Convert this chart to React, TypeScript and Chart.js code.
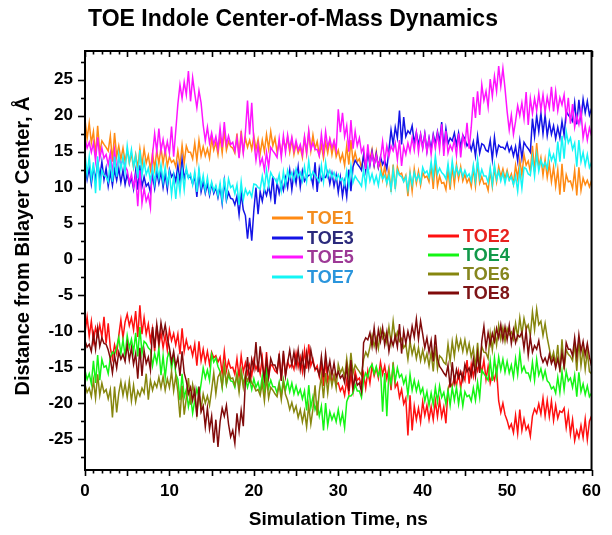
import { useEffect, useRef } from 'react';
import { Chart, registerables } from 'chart.js';

Chart.register(...registerables);

// time step between samples (ns)
const STEP_NS = 0.25;

const X_TICKS = [0, 10, 20, 30, 40, 50, 60];
const Y_TICKS = [-25, -20, -15, -10, -5, 0, 5, 10, 15, 20, 25];

const TOE1 = [
  19.5, 16.8, 19.0, 16.2, 17.8, 14.5, 18.6, 14.9, 16.5, 16.0, 15.6, 15.1, 17.2, 13.6, 17.6, 14.3, 15.8, 13.9, 15.5, 13.6,
  15.2, 13.4, 14.7, 12.8, 14.6, 12.7, 15.4, 13.1, 15.4, 13.4, 14.5, 12.5, 14.8, 12.6, 15.2, 13.3, 15.6, 13.3, 15.3, 13.0,
  14.3, 13.5, 13.8, 12.9, 15.1, 13.0, 15.9, 13.4, 15.8, 14.9, 14.9, 14.0, 16.2, 13.7, 16.6, 14.4, 15.7, 14.4, 15.4, 14.1,
  16.8, 15.2, 16.3, 14.6, 17.1, 14.8, 17.9, 15.2, 16.4, 15.7, 15.5, 14.8, 17.5, 14.3, 17.9, 15.0, 16.9, 15.6, 16.6, 15.3,
  17.2, 15.3, 16.7, 14.7, 16.6, 15.0, 17.4, 15.4, 17.8, 15.8, 16.9, 14.9, 16.3, 14.8, 16.7, 15.5, 17.0, 14.9, 16.7, 14.6,
  16.1, 14.8, 15.6, 14.2, 16.9, 14.7, 17.7, 15.1, 17.3, 15.4, 16.4, 14.5, 15.9, 14.1, 16.3, 14.8, 16.6, 14.6, 16.3, 14.3,
  15.2, 13.7, 14.7, 13.1, 15.8, 13.2, 16.6, 13.6, 14.9, 13.6, 14.0, 12.7, 14.4, 13.2, 14.8, 13.9, 15.3, 13.1, 15.0, 12.8,
  13.5, 11.2, 13.0, 10.6, 12.4, 9.4, 13.2, 9.8, 12.9, 11.8, 12.0, 10.9, 11.7, 8.8, 12.1, 9.5, 12.6, 10.6, 12.3, 10.3,
  12.1, 11.4, 11.6, 10.8, 13.0, 9.8, 13.8, 10.2, 11.6, 10.6, 10.7, 9.7, 12.5, 9.7, 12.9, 10.4, 13.2, 11.2, 12.9, 10.9,
  11.8, 10.7, 11.3, 10.1, 12.7, 10.2, 13.5, 10.6, 11.5, 10.5, 10.6, 9.6, 12.3, 10.1, 12.7, 10.8, 12.9, 11.5, 12.6, 11.2,
  12.4, 11.1, 11.9, 10.5, 13.1, 11.3, 13.9, 11.7, 14.6, 13.1, 13.7, 12.2, 15.8, 12.2, 16.2, 12.9, 14.2, 11.7, 13.9, 11.4,
  13.3, 10.8, 12.8, 10.2, 12.5, 9.0, 13.3, 9.4, 11.8, 10.8, 10.9, 9.9, 12.4, 8.9, 12.8, 9.6, 11.3, 10.4, 11.0, 10.1,
  11.0,
];

const TOE3 = [
  13.2, 11.1, 12.7, 10.5, 12.8, 11.0, 13.6, 11.4, 13.6, 11.1, 12.7, 10.2, 12.1, 10.3, 12.5, 11.0, 12.7, 10.7, 12.4, 10.4,
  11.9, 10.4, 11.4, 9.8, 12.3, 9.7, 13.1, 10.1, 11.5, 10.2, 10.6, 9.3, 11.8, 9.9, 12.2, 10.6, 12.2, 10.0, 11.9, 9.7,
  12.5, 11.5, 12.0, 10.9, 13.1, 10.9, 13.9, 11.3, 12.4, 11.4, 11.5, 10.5, 11.6, 8.7, 12.0, 9.4, 10.8, 9.2, 10.5, 8.9,
  10.5, 9.2, 10.0, 8.6, 10.1, 7.8, 10.9, 8.2, 9.3, 8.5, 8.4, 7.6, 8.8, 6.2, 9.2, 6.9, 6.1, 2.9, 5.8, 2.6,
  6.8, 10.0, 6.3, 9.4, 8.1, 9.8, 8.9, 10.2, 8.6, 11.6, 7.7, 10.7, 9.2, 10.7, 9.6, 11.4, 10.0, 12.4, 9.7, 12.1,
  10.6, 12.9, 10.1, 12.3, 10.9, 11.4, 11.7, 11.8, 10.3, 13.5, 9.4, 12.6, 11.0, 11.5, 11.4, 12.2, 10.5, 12.0, 10.2, 11.7,
  9.3, 11.4, 8.8, 10.8, 8.7, 12.5, 9.5, 12.9, 13.8, 13.3, 12.9, 12.4, 14.6, 12.4, 15.0, 13.1, 15.0, 13.1, 14.7, 12.8,
  14.3, 13.2, 13.8, 12.6, 15.2, 18.0, 16.0, 18.4, 16.9, 20.7, 16.0, 19.8, 17.1, 17.9, 17.5, 18.6, 16.2, 17.7, 15.9, 17.4,
  15.6, 17.5, 15.1, 16.9, 15.3, 17.4, 16.1, 17.8, 16.4, 19.1, 15.5, 18.2, 16.1, 16.9, 16.5, 17.6, 15.9, 17.6, 15.6, 17.3,
  16.8, 15.8, 16.3, 15.2, 16.4, 14.4, 17.2, 14.8, 16.1, 15.9, 15.2, 15.0, 16.6, 13.9, 17.0, 14.6, 15.9, 15.6, 15.6, 15.3,
  16.2, 15.0, 15.7, 14.4, 15.7, 13.7, 16.5, 14.1, 16.3, 15.8, 15.4, 14.9, 19.6, 17.1, 20.0, 17.8, 20.4, 17.5, 20.1, 17.2,
  19.1, 17.4, 18.6, 16.8, 18.4, 16.9, 19.2, 17.3, 20.6, 20.1, 19.7, 19.2, 21.8, 18.8, 22.2, 19.5, 22.3, 20.4, 22.0, 20.1,
  21.0,
];

const TOE5 = [
  16.8, 15.5, 16.3, 14.9, 16.2, 13.7, 17.0, 14.1, 15.5, 14.1, 14.6, 13.2, 14.8, 11.9, 15.2, 12.6, 14.1, 13.3, 13.8, 13.0,
  12.4, 10.7, 11.9, 10.1, 11.6, 7.4, 12.4, 7.8, 9.9, 8.1, 9.0, 7.2, 14.6, 17.5, 15.0, 18.2, 15.1, 16.7, 14.8, 16.4,
  14.8, 18.5, 14.3, 17.9, 21.6, 24.3, 22.4, 24.7, 22.9, 26.2, 22.0, 25.3, 23.1, 21.1, 23.5, 21.8, 18.7, 16.5, 18.4, 16.2,
  17.6, 16.0, 17.1, 15.4, 18.3, 15.6, 19.1, 16.0, 17.2, 16.0, 16.3, 15.1, 16.9, 14.1, 17.3, 14.8, 17.7, 22.1, 17.4, 21.8,
  16.4, 13.8, 15.9, 13.2, 14.1, 12.4, 14.9, 12.8, 15.6, 15.1, 14.7, 14.2, 16.8, 14.2, 17.2, 14.9, 17.3, 15.4, 17.0, 15.1,
  16.5, 15.2, 16.0, 14.6, 17.1, 14.9, 17.9, 15.3, 16.2, 15.3, 15.3, 14.4, 17.4, 14.9, 17.8, 15.6, 16.8, 15.5, 16.5, 15.2,
  20.9, 17.7, 20.4, 17.1, 18.6, 15.0, 19.4, 15.4, 17.8, 15.8, 16.9, 14.9, 15.6, 12.6, 16.0, 13.3, 14.8, 13.2, 14.5, 12.9,
  14.1, 16.4, 13.6, 15.8, 14.3, 15.8, 15.1, 16.2, 13.9, 16.6, 13.0, 15.7, 14.6, 16.2, 15.0, 16.9, 15.2, 17.6, 14.9, 17.3,
  15.4, 17.4, 14.9, 16.8, 14.6, 17.1, 15.4, 17.5, 15.3, 18.8, 14.4, 17.9, 14.8, 15.9, 15.2, 16.6, 14.5, 17.5, 14.2, 17.2,
  15.9, 19.0, 15.4, 18.4, 22.6, 19.7, 23.4, 20.1, 24.3, 22.1, 23.4, 21.2, 25.1, 22.7, 25.5, 23.4, 26.9, 24.1, 26.6, 23.8,
  20.6, 18.0, 20.1, 17.4, 19.2, 21.4, 20.0, 21.8, 19.6, 23.3, 18.7, 22.4, 20.3, 22.4, 20.7, 23.1, 20.8, 22.9, 20.5, 22.6,
  21.1, 24.0, 20.6, 23.4, 20.7, 22.5, 21.5, 22.9, 19.8, 22.5, 18.9, 21.6, 18.4, 20.0, 18.8, 20.7, 16.9, 18.6, 16.6, 18.3,
  17.2,
];

const TOE7 = [
  14.8, 11.8, 14.3, 11.2, 13.5, 9.2, 14.3, 9.6, 12.4, 11.7, 11.5, 10.8, 13.9, 10.8, 14.3, 11.5, 14.6, 12.5, 14.3, 12.2,
  15.8, 13.5, 15.3, 12.9, 14.4, 11.3, 15.2, 11.7, 13.6, 11.8, 12.7, 10.9, 12.8, 10.6, 13.2, 11.3, 13.2, 10.8, 12.9, 10.5,
  12.1, 9.0, 11.6, 8.4, 11.6, 9.3, 12.4, 9.7, 12.8, 11.3, 11.9, 10.4, 12.2, 9.4, 12.6, 10.1, 11.7, 9.6, 11.4, 9.3,
  10.8, 9.5, 10.3, 8.9, 10.6, 8.2, 11.4, 8.6, 11.2, 10.0, 10.3, 9.1, 10.4, 7.6, 10.8, 8.3, 9.8, 9.0, 9.5, 8.7,
  10.5, 10.4, 10.0, 9.8, 11.6, 9.8, 12.4, 10.2, 12.1, 11.5, 11.2, 10.6, 11.8, 9.6, 12.2, 10.3, 12.4, 11.3, 12.1, 11.0,
  12.6, 11.5, 12.1, 10.9, 12.9, 10.9, 13.7, 11.3, 12.2, 11.7, 11.3, 10.8, 13.1, 10.8, 13.5, 11.5, 12.4, 11.4, 12.1, 11.1,
  11.8, 11.0, 11.3, 10.4, 12.3, 10.3, 13.1, 10.7, 11.6, 11.1, 10.7, 10.2, 12.5, 10.2, 12.9, 10.9, 11.9, 10.6, 11.6, 10.3,
  12.2, 11.2, 11.7, 10.6, 11.7, 9.7, 12.5, 10.1, 12.4, 11.7, 11.5, 10.8, 11.5, 9.7, 11.9, 10.4, 12.1, 11.0, 11.8, 10.7,
  12.8, 12.0, 12.3, 11.4, 13.6, 11.5, 14.4, 11.9, 12.7, 12.1, 11.8, 11.2, 13.3, 10.9, 13.7, 11.6, 12.9, 11.8, 12.6, 11.5,
  12.4, 11.5, 11.9, 10.9, 13.1, 10.9, 13.9, 11.3, 12.5, 11.6, 11.6, 10.7, 12.8, 10.4, 13.2, 11.1, 12.3, 10.9, 12.0, 10.6,
  12.0, 11.0, 11.5, 10.4, 11.6, 9.5, 12.4, 9.9, 12.8, 12.6, 11.9, 11.7, 14.2, 11.6, 14.6, 12.3, 13.8, 12.9, 13.5, 12.6,
  15.1, 13.8, 14.6, 13.2, 16.4, 13.6, 17.2, 14.0, 17.8, 16.2, 16.9, 15.3, 16.2, 12.9, 16.6, 13.6, 14.9, 13.1, 14.6, 12.8,
  13.5,
];

const TOE2 = [
  -10.2, -8.0, -10.7, -8.6, -11.4, -9.5, -10.6, -9.1, -10.8, -8.0, -11.7, -8.9, -12.3, -13.8, -11.9, -13.1, -10.6, -8.4, -10.9, -8.7,
  -7.6, -9.2, -8.1, -9.8, -7.2, -10.8, -6.4, -10.4, -8.1, -10.4, -9.0, -11.3, -9.6, -12.8, -9.2, -12.1, -10.2, -12.3, -10.5, -12.6,
  -9.8, -11.3, -10.3, -11.9, -10.4, -13.2, -9.6, -12.8, -11.2, -12.5, -12.1, -13.4, -11.8, -14.8, -11.4, -14.1, -12.5, -14.3, -12.8, -14.6,
  -12.9, -13.7, -13.4, -14.3, -13.6, -15.9, -12.8, -15.5, -14.1, -15.1, -15.0, -16.0, -13.8, -16.4, -13.4, -15.7, -14.4, -15.9, -14.7, -16.2,
  -14.0, -15.3, -14.5, -15.9, -13.7, -16.8, -12.9, -16.4, -14.6, -14.9, -15.5, -15.8, -13.5, -16.8, -13.1, -16.1, -14.2, -15.0, -14.5, -15.3,
  -13.1, -15.0, -13.6, -15.6, -12.6, -15.2, -11.8, -14.8, -13.9, -15.4, -14.8, -16.3, -14.5, -17.6, -14.1, -16.9, -15.8, -17.1, -16.1, -17.4,
  -17.2, -18.3, -17.7, -18.9, -16.8, -18.7, -16.0, -18.3, -15.6, -16.8, -16.5, -17.7, -15.9, -17.9, -15.5, -17.2, -14.8, -16.2, -15.1, -16.5,
  -14.3, -16.0, -14.8, -16.6, -15.1, -18.2, -14.3, -17.8, -17.2, -19.2, -18.1, -20.1, -19.3, -24.5, -18.9, -23.8, -20.4, -22.3, -20.7, -22.6,
  -19.8, -21.7, -20.3, -22.3, -20.5, -22.3, -19.7, -21.9, -19.6, -21.9, -20.5, -22.8, -18.1, -17.1, -17.7, -16.4, -17.6, -15.6, -17.9, -15.9,
  -16.8, -14.0, -17.3, -14.6, -16.3, -14.5, -15.5, -14.1, -15.8, -14.0, -16.7, -14.9, -17.2, -16.0, -16.8, -15.3, -19.7, -21.3, -20.0, -21.6,
  -22.4, -23.5, -22.9, -24.1, -21.7, -24.2, -20.9, -23.8, -22.2, -23.7, -23.1, -24.6, -21.8, -20.8, -21.4, -20.1, -21.5, -19.3, -21.8, -19.6,
  -21.9, -19.7, -22.4, -20.3, -22.1, -21.1, -21.3, -20.7, -23.4, -21.4, -24.3, -22.3, -25.2, -23.8, -24.8, -23.1, -24.8, -22.2, -25.1, -22.5,
  -21.8,
];

const TOE4 = [
  -15.4, -16.7, -15.9, -17.3, -14.1, -17.2, -13.3, -16.8, -13.9, -15.0, -14.8, -15.9, -13.6, -12.9, -13.2, -12.2, -10.9, -13.1, -11.2, -13.4,
  -10.6, -12.3, -11.1, -12.9, -10.2, -13.5, -9.4, -13.1, -11.4, -11.7, -12.3, -12.6, -14.8, -13.1, -14.4, -12.4, -16.1, -13.4, -16.4, -13.7,
  -12.8, -15.3, -13.3, -15.9, -16.7, -19.6, -15.9, -19.2, -18.1, -20.5, -19.0, -21.4, -19.6, -18.0, -19.2, -17.3, -15.1, -16.5, -15.4, -16.8,
  -13.2, -14.3, -13.7, -14.9, -15.6, -17.8, -14.8, -17.4, -16.1, -16.9, -17.0, -17.8, -15.9, -17.9, -15.5, -17.2, -16.4, -17.8, -16.7, -18.1,
  -16.6, -17.8, -17.1, -18.4, -16.2, -18.3, -15.4, -17.9, -16.8, -17.7, -17.7, -18.6, -17.1, -18.9, -16.7, -18.2, -16.9, -18.4, -17.2, -18.7,
  -17.6, -18.8, -18.1, -19.4, -18.3, -21.0, -17.5, -20.6, -19.1, -20.9, -20.0, -21.8, -20.4, -23.8, -20.0, -23.1, -21.2, -22.3, -21.5, -22.6,
  -20.9, -22.8, -21.4, -23.4, -19.8, -19.0, -19.0, -18.6, -17.4, -18.3, -18.3, -19.2, -16.8, -15.8, -16.4, -15.1, -14.6, -15.9, -14.9, -16.2,
  -15.3, -21.2, -15.8, -21.8, -15.6, -17.3, -14.8, -16.9, -15.1, -16.4, -16.0, -17.3, -16.4, -18.9, -16.0, -18.2, -16.8, -18.3, -17.1, -18.6,
  -17.9, -19.7, -18.4, -20.3, -18.6, -20.2, -17.8, -19.8, -17.6, -19.2, -18.5, -20.1, -18.2, -20.3, -17.8, -19.6, -17.8, -20.1, -18.1, -20.4,
  -18.4, -19.1, -18.9, -19.7, -17.9, -19.6, -17.1, -19.2, -15.4, -15.9, -16.3, -16.8, -14.1, -16.9, -13.7, -16.2, -13.6, -15.4, -13.9, -15.7,
  -14.2, -15.8, -14.7, -16.4, -13.8, -16.0, -13.0, -15.6, -14.9, -15.8, -15.8, -16.7, -14.3, -16.8, -13.9, -16.1, -15.2, -16.6, -15.5, -16.9,
  -17.2, -18.0, -17.7, -18.6, -16.4, -18.5, -15.6, -18.1, -15.6, -16.9, -16.5, -17.8, -16.1, -19.1, -15.7, -18.4, -17.3, -18.8, -17.6, -19.1,
  -18.6,
];

const TOE6 = [
  -17.4, -18.5, -17.9, -19.1, -16.8, -19.3, -16.0, -18.9, -17.2, -18.5, -18.1, -19.4, -18.1, -22.0, -17.7, -21.3, -18.6, -17.0, -18.9, -17.3,
  -19.2, -16.9, -19.7, -17.5, -19.8, -18.3, -19.0, -17.9, -18.6, -15.9, -19.5, -16.8, -18.2, -17.1, -17.8, -16.4, -17.9, -16.3, -18.2, -16.6,
  -17.8, -15.6, -18.3, -16.2, -18.4, -22.0, -17.6, -21.6, -19.3, -16.5, -20.2, -17.4, -18.9, -21.5, -18.5, -20.8, -18.7, -20.0, -19.0, -20.3,
  -18.2, -15.8, -18.7, -16.4, -15.8, -17.7, -15.0, -17.3, -15.6, -16.6, -16.5, -17.5, -16.1, -18.5, -15.7, -17.8, -15.9, -16.9, -16.2, -17.2,
  -17.6, -18.3, -18.1, -18.9, -17.2, -19.7, -16.4, -19.3, -17.8, -18.2, -18.7, -19.1, -17.4, -19.5, -17.0, -18.8, -19.6, -20.9, -19.9, -21.2,
  -20.4, -22.0, -20.9, -22.6, -21.1, -23.3, -20.3, -22.9, -20.8, -17.5, -21.7, -18.4, -16.2, -19.3, -15.8, -18.6, -15.8, -17.6, -16.1, -17.9,
  -14.6, -15.8, -15.1, -16.4, -13.8, -16.3, -13.0, -15.9, -14.7, -15.2, -15.6, -16.1, -13.9, -12.9, -13.5, -12.2, -10.6, -12.1, -10.9, -12.4,
  -9.8, -11.0, -10.3, -11.6, -9.4, -11.6, -8.6, -11.2, -10.1, -11.4, -11.0, -12.3, -11.8, -13.9, -11.4, -13.2, -12.0, -13.8, -12.3, -14.1,
  -12.6, -14.2, -13.1, -14.8, -12.9, -15.6, -12.1, -15.2, -13.4, -13.7, -14.3, -14.6, -11.8, -14.2, -11.4, -13.5, -10.9, -12.5, -11.2, -12.8,
  -11.2, -13.0, -11.7, -13.6, -12.4, -15.1, -11.6, -14.7, -12.1, -12.9, -13.0, -13.8, -10.3, -12.6, -9.9, -11.9, -9.2, -11.1, -9.5, -11.4,
  -9.6, -10.5, -10.1, -11.1, -8.9, -10.8, -8.1, -10.4, -8.2, -9.7, -9.1, -10.6, -7.3, -9.8, -6.9, -9.1, -8.6, -10.6, -8.9, -10.9,
  -12.4, -14.0, -12.9, -14.6, -11.9, -15.7, -11.1, -15.3, -12.6, -13.2, -13.5, -14.1, -11.7, -15.5, -11.3, -14.8, -12.5, -15.3, -12.8, -15.6,
  -15.9,
];

const TOE8 = [
  -11.3, -12.2, -11.8, -12.8, -10.4, -12.5, -9.6, -12.1, -10.9, -11.7, -11.8, -12.6, -13.8, -15.8, -13.4, -15.1, -12.9, -13.9, -13.2, -14.2,
  -11.8, -14.0, -12.3, -14.6, -13.1, -16.6, -12.3, -16.2, -12.7, -14.5, -13.6, -15.4, -9.4, -12.3, -9.0, -11.6, -8.8, -10.6, -9.1, -10.9,
  -12.3, -14.3, -12.8, -14.9, -13.6, -16.2, -12.8, -15.8, -16.9, -18.7, -17.8, -19.6, -18.1, -21.9, -17.7, -21.2, -20.4, -23.3, -20.7, -23.6,
  -21.8, -25.5, -22.3, -26.1, -22.6, -20.7, -21.8, -20.3, -22.9, -24.7, -23.8, -25.6, -21.4, -23.9, -21.0, -23.2, -16.8, -13.6, -17.1, -13.9,
  -15.2, -11.5, -15.7, -12.1, -14.6, -16.7, -13.8, -16.3, -13.8, -14.7, -14.7, -15.6, -13.1, -16.9, -12.7, -16.2, -14.4, -12.6, -14.7, -12.9,
  -14.8, -12.6, -15.3, -13.2, -15.9, -13.0, -15.1, -12.6, -14.3, -15.2, -15.2, -16.1, -13.5, -16.4, -13.1, -15.7, -14.1, -16.1, -14.4, -16.4,
  -15.6, -16.5, -16.1, -17.1, -14.8, -18.3, -14.0, -17.9, -16.3, -17.5, -17.2, -18.4, -11.6, -10.9, -11.2, -10.2, -12.1, -9.5, -12.4, -9.8,
  -11.4, -9.5, -11.9, -10.1, -12.8, -11.0, -12.0, -10.6, -12.2, -9.0, -13.1, -9.9, -11.7, -10.0, -11.3, -9.3, -10.8, -8.3, -11.1, -8.6,
  -10.4, -12.3, -10.9, -12.9, -11.3, -14.2, -10.5, -13.8, -14.9, -15.3, -15.8, -16.2, -14.7, -17.8, -14.3, -17.1, -15.3, -16.5, -15.6, -16.8,
  -14.6, -15.6, -15.1, -16.2, -13.9, -16.2, -13.1, -15.8, -11.4, -9.3, -12.3, -10.2, -11.8, -10.3, -11.4, -9.6, -10.9, -9.1, -11.2, -9.4,
  -11.2, -9.2, -11.7, -9.8, -11.6, -10.5, -10.8, -10.1, -12.4, -9.9, -13.3, -10.8, -12.9, -12.0, -12.5, -11.3, -13.4, -14.3, -13.7, -14.6,
  -13.2, -14.5, -13.7, -15.1, -13.8, -15.3, -13.0, -14.9, -11.6, -12.5, -12.5, -13.4, -10.9, -13.5, -10.5, -12.8, -11.4, -13.3, -11.7, -13.6,
  -14.8,
];

const SERIES = [
  { name: 'TOE1', values: TOE1, line: '#ff8a14', text: '#f38d1f' },
  { name: 'TOE2', values: TOE2, line: '#ff1010', text: '#e8231f' },
  { name: 'TOE3', values: TOE3, line: '#1414e6', text: '#2b2a7c' },
  { name: 'TOE4', values: TOE4, line: '#14f514', text: '#12994a' },
  { name: 'TOE5', values: TOE5, line: '#ff14ff', text: '#9d3996' },
  { name: 'TOE6', values: TOE6, line: '#86860e', text: '#86861e' },
  { name: 'TOE7', values: TOE7, line: '#14f5f5', text: '#2a95dc' },
  { name: 'TOE8', values: TOE8, line: '#800a0a', text: '#7e1416' },
];

const LEGEND_LEFT = ['TOE1', 'TOE3', 'TOE5', 'TOE7'];
const LEGEND_RIGHT = ['TOE2', 'TOE4', 'TOE6', 'TOE8'];

const FONT = '"Liberation Sans", Arial, sans-serif';

const decor = {
  id: 'decor',
  afterDraw(chart: any) {
    const { ctx, chartArea: a, scales } = chart;
    const x = scales.x;
    const y = scales.y;
    ctx.save();
    ctx.strokeStyle = '#000';
    ctx.lineWidth = 2;
    ctx.strokeRect(a.left, a.top, a.right - a.left, a.bottom - a.top);
    ctx.lineWidth = 1.6;
    for (let v = 0; v <= 60; v += 1) {
      const px = Math.round(x.getPixelForValue(v)) + 0.5;
      const len = v % 5 === 0 ? 6 : 3.5;
      ctx.beginPath();
      ctx.moveTo(px, a.bottom);
      ctx.lineTo(px, a.bottom + len);
      ctx.moveTo(px, a.top);
      ctx.lineTo(px, a.top + len);
      ctx.stroke();
    }
    for (let v = -27.5; v <= 27.5; v += 2.5) {
      const py = Math.round(y.getPixelForValue(v)) + 0.5;
      const len = Math.abs(v % 5) < 0.01 ? 7 : 4;
      ctx.beginPath();
      ctx.moveTo(a.left, py);
      ctx.lineTo(a.left - len, py);
      ctx.stroke();
    }
    ctx.fillStyle = '#000';
    ctx.textAlign = 'center';
    ctx.textBaseline = 'alphabetic';
    ctx.font = `bold 23px ${FONT}`;
    ctx.fillText('TOE Indole Center-of-Mass Dynamics', 293, 26);
    ctx.font = `bold 19px ${FONT}`;
    ctx.fillText('Simulation Time, ns', (a.left + a.right) / 2, 525);
    ctx.save();
    ctx.font = `bold 20px ${FONT}`;
    ctx.translate(29, 246);
    ctx.rotate(-Math.PI / 2);
    ctx.fillText('Distance from Bilayer Center, \u00C5', 0, 0);
    ctx.restore();
    ctx.font = `bold 18px ${FONT}`;
    ctx.textAlign = 'left';
    ctx.textBaseline = 'middle';
    const drawCol = (names: string[], lx: number, ys: number[]) => {
      names.forEach((n, i) => {
        const s = SERIES.find((q) => q.name === n)!;
        ctx.strokeStyle = s.line;
        ctx.lineWidth = 3;
        ctx.beginPath();
        ctx.moveTo(lx, ys[i]);
        ctx.lineTo(lx + 31, ys[i]);
        ctx.stroke();
        ctx.fillStyle = s.text;
        ctx.fillText(n, lx + 35, ys[i] + 1);
      });
    };
    drawCol(LEGEND_LEFT, 272, [218, 238, 257, 277]);
    drawCol(LEGEND_RIGHT, 428, [236, 255, 274, 293]);
    ctx.restore();
  },
};

export default function App() {
  const ref = useRef<HTMLCanvasElement>(null);
  useEffect(() => {
    const chart = new Chart(ref.current!, {
      type: 'line',
      data: {
        datasets: SERIES.map((s, k) => ({
          label: s.name,
          data: s.values.map((v, i) => ({ x: i * STEP_NS, y: v })),
          borderColor: s.line,
          backgroundColor: s.line,
          borderWidth: 1.5,
          pointRadius: 0,
          tension: 0,
          fill: false,
          order: SERIES.length - k,
        })),
      },
      options: {
        animation: false,
        responsive: false,
        devicePixelRatio: 1,
        layout: { padding: { top: 51, right: 14, left: 0, bottom: 0 } },
        plugins: { legend: { display: false }, tooltip: { enabled: false }, title: { display: false } },
        scales: {
          x: {
            type: 'linear',
            min: 0,
            max: 60,
            grid: { display: false, drawTicks: false },
            border: { display: false },
            afterBuildTicks: (s: any) => {
              s.ticks = X_TICKS.map((v) => ({ value: v }));
            },
            afterFit: (s: any) => {
              s.height = 65;
            },
            ticks: {
              padding: 11,
              color: '#000',
              font: { family: FONT, size: 17, weight: 'bold' },
              maxRotation: 0,
            },
          },
          y: {
            type: 'linear',
            min: -29.3,
            max: 29,
            grid: { display: false, drawTicks: false },
            border: { display: false },
            afterBuildTicks: (s: any) => {
              s.ticks = Y_TICKS.map((v) => ({ value: v }));
            },
            afterFit: (s: any) => {
              s.width = 85;
            },
            ticks: {
              padding: 12,
              color: '#000',
              font: { family: FONT, size: 17, weight: 'bold' },
            },
          },
        },
      },
      plugins: [decor],
    });
    return () => chart.destroy();
  }, []);
  return (
    <div style={{ position: 'fixed', left: 0, top: 0, width: 612, height: 535, background: '#fff' }}>
      <canvas ref={ref} width={612} height={535} />
    </div>
  );
}
